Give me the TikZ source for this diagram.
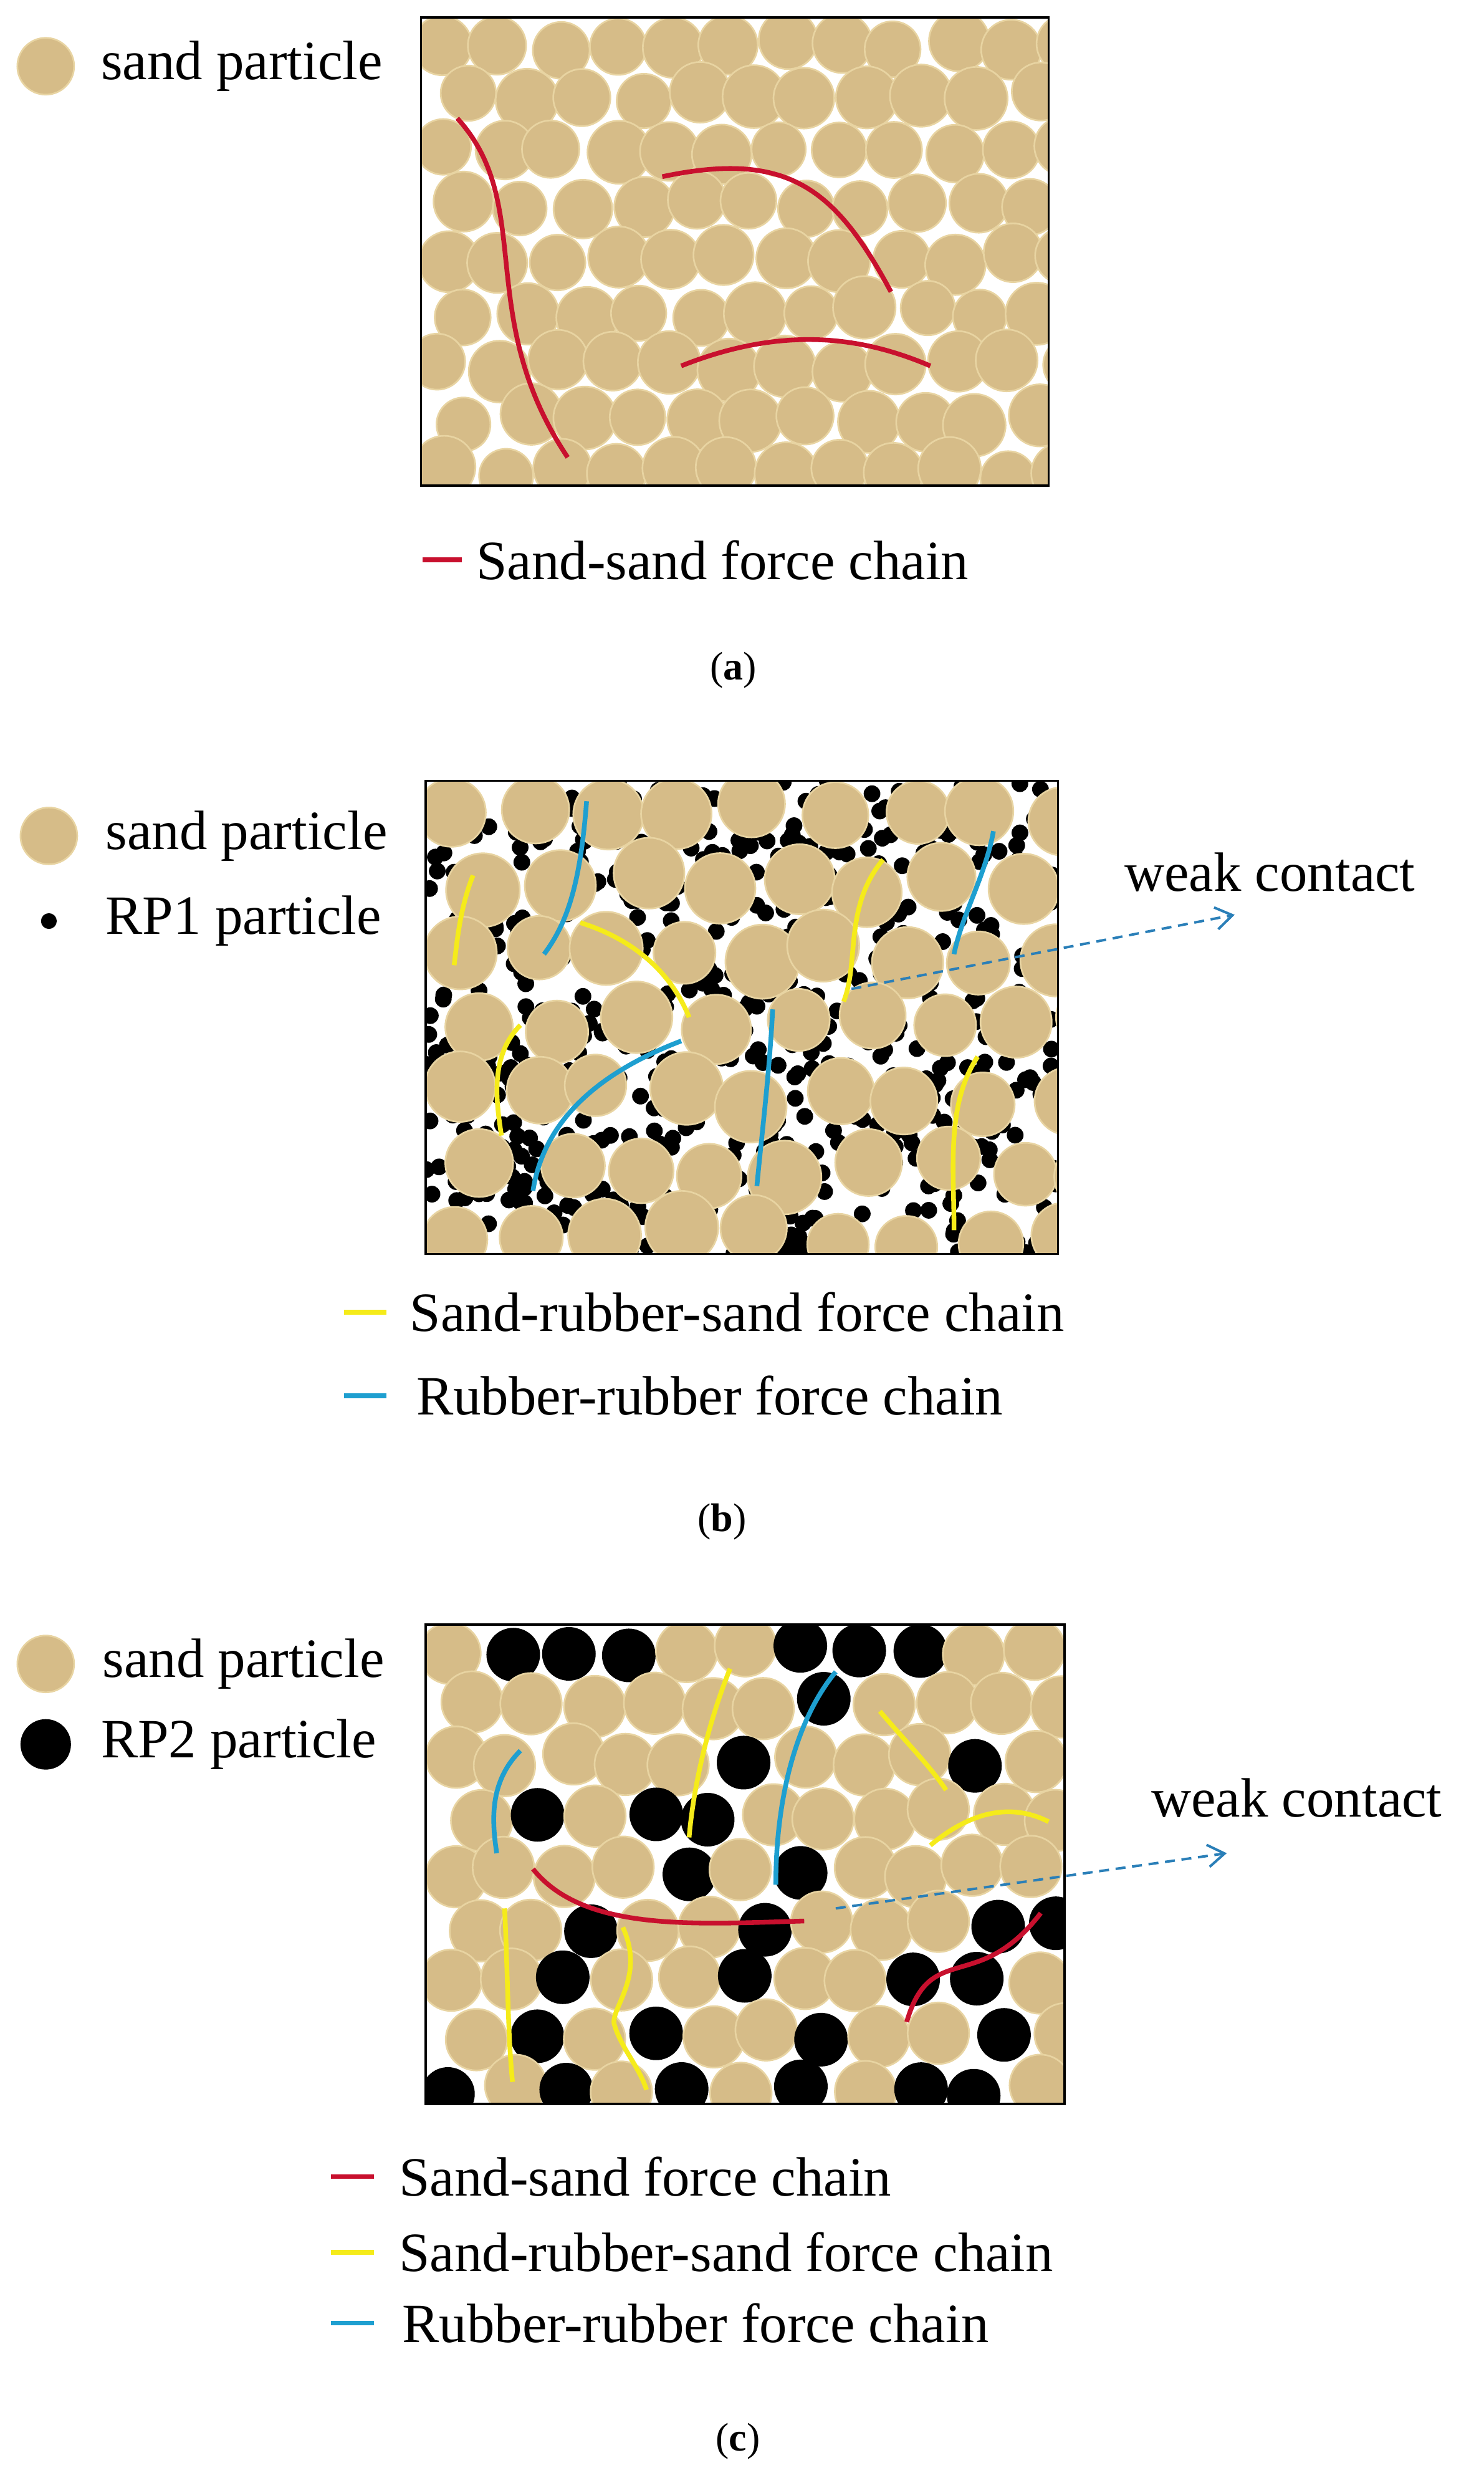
\documentclass[tikz,border=0pt]{standalone}
\usepackage{fontspec}
\setmainfont{Liberation Serif}
\usetikzlibrary{arrows.meta}
\definecolor{sand}{HTML}{D6BC88}
\definecolor{sandedge}{HTML}{E8D4A2}
\definecolor{chred}{HTML}{C8102E}
\definecolor{chyel}{HTML}{F5EB1A}
\definecolor{chcy}{HTML}{1E9FD0}
\definecolor{arr}{HTML}{2A7FB8}
\tikzset{
 sandp/.style={fill=sand,draw=sandedge,line width=3pt},
 chain/.style={line width=8.5pt},
 frame/.style={draw=black,line width=4pt},
 lbl/.style={anchor=west,inner sep=0pt,font=\fontsize{100}{120}\selectfont},
 captxt/.style={inner sep=0pt,font=\fontsize{72}{86}\selectfont},
 wk/.style={line width=4.5pt,draw=arr,dash pattern=on 18pt off 12pt,-{Straight Barb[length=30pt,width=40pt,line width=4.5pt]}}
}
\begin{document}
\begin{tikzpicture}[x=0.1cm,y=-0.1cm]
\useasboundingbox (0,0) rectangle (941,1568);
\pgfmathsetseed{7}
% ---------- panel a
\begin{scope}
\clip (267,11) rectangle (665,308);
\foreach \r in {0,...,8}{
 \foreach \c in {0,...,11}{
  \pgfmathsetmacro\xx{281+\c*36+mod(\r,2)*16+rand*4}
  \pgfmathsetmacro\yy{28+\r*34+rand*4}
  \pgfmathsetmacro\rr{18.5+rand*1.5}
  \fill[sandp] (\xx,\yy) circle[radius=\rr];
 }}
\end{scope}
\draw[frame] (267,11) rectangle (665,308);
\draw[chain,chred] (290,75) .. controls (340,130) and (300,200) .. (360,290);
\draw[chain,chred] (420,112) .. controls (500,95) and (530,120) .. (565,185);
\draw[chain,chred] (432,232) .. controls (500,205) and (550,215) .. (590,232);
\fill[sandp] (29,42) circle[radius=18];
\node[lbl] (la1) at (64,42) {sand particle};
\draw[chain,chred] (268,355) -- (293,355);
\node[lbl] (la2) at (302,355) {Sand-sand force chain};
\node[captxt] (ca) at (465,425) {(\textbf{a})};
% ---------- panel b
\begin{scope}
\clip (270,495) rectangle (671,795);
\foreach \i in {1,...,700}{
  \pgfmathsetmacro\xx{270+rnd*401}
  \pgfmathsetmacro\yy{495+rnd*300}
  \fill[black] (\xx,\yy) circle[radius=5.3];
}
\foreach \r in {0,...,6}{
 \foreach \c in {0,...,8}{
  \pgfmathsetmacro\xx{288+\c*48+mod(\r,2)*22+rand*7}
  \pgfmathsetmacro\yy{515+\r*45+rand*7}
  \pgfmathsetmacro\rr{21.5+rand*2}
  \fill[sandp] (\xx,\yy) circle[radius=\rr];
 }}
\end{scope}
\draw[frame] (270,495) rectangle (671,795);
\draw[chain,chyel] (300,555) .. controls (292,575) and (290,595) .. (288,612);
\draw[chain,chyel] (368,585) .. controls (400,595) and (425,615) .. (437,645);
\draw[chain,chyel] (560,545) .. controls (535,575) and (545,610) .. (535,635);
\draw[chain,chyel] (330,650) .. controls (310,670) and (315,700) .. (318,720);
\draw[chain,chyel] (620,670) .. controls (600,700) and (605,740) .. (605,780);
\draw[chain,chcy] (372,508) .. controls (368,560) and (360,585) .. (345,605);
\draw[chain,chcy] (630,527) .. controls (625,555) and (610,580) .. (605,605);
\draw[chain,chcy] (432,660) .. controls (380,680) and (345,710) .. (338,755);
\draw[chain,chcy] (490,640) .. controls (488,680) and (483,720) .. (480,752);
\coordinate (wb) at (540,627);
\node[lbl] (wkb) at (713,553) {weak contact};
\coordinate (wbe) at (783,580);
\draw[wk] (wb) -- (wbe);
\fill[sandp] (31,530) circle[radius=18];
\node[lbl] (lb1) at (67,530) {sand particle};
\fill[black] (31,584) circle[radius=5];
\node[lbl] (lb2) at (67,584) {RP1 particle};
\draw[chain,chyel] (218,832) -- (245,832);
\node[lbl] (lb3) at (260,832) {Sand-rubber-sand force chain};
\draw[chain,chcy] (218,885) -- (245,885);
\node[lbl] (lb4) at (264,885) {Rubber-rubber force chain};
\node[captxt] (cb) at (458,965) {(\textbf{b})};
% ---------- panel c
\begin{scope}
\clip (270,1030) rectangle (675,1334);
\foreach \r in {0,...,8}{
 \foreach \c in {0,...,10}{
  \pgfmathsetmacro\xx{286+\c*37+mod(\r,2)*16+rand*4}
  \pgfmathsetmacro\yy{1046+\r*35+rand*4}
  \pgfmathsetmacro\t{rnd}
  \ifdim\t pt<0.3pt
    \fill[black] (\xx,\yy) circle[radius=17];
  \else
    \fill[sandp] (\xx,\yy) circle[radius=19.5];
  \fi
 }}
\end{scope}
\draw[frame] (270,1030) rectangle (675,1334);
\draw[chain,chyel] (463,1058) .. controls (450,1090) and (440,1130) .. (437,1165);
\draw[chain,chyel] (558,1085) .. controls (575,1105) and (590,1120) .. (600,1135);
\draw[chain,chyel] (590,1170) .. controls (620,1145) and (645,1145) .. (665,1155);
\draw[chain,chyel] (320,1210) .. controls (322,1250) and (322,1290) .. (325,1320);
\draw[chain,chyel] (395,1222) .. controls (410,1255) and (385,1275) .. (390,1285) .. controls (395,1300) and (405,1310) .. (410,1325);
\draw[chain,chcy] (330,1110) .. controls (310,1130) and (312,1155) .. (315,1175);
\draw[chain,chcy] (530,1060) .. controls (505,1090) and (492,1140) .. (492,1195);
\draw[chain,chred] (338,1185) .. controls (370,1225) and (440,1220) .. (510,1218);
\draw[chain,chred] (575,1282) .. controls (590,1230) and (620,1265) .. (660,1213);
\coordinate (wc) at (530,1210);
\node[lbl] (wkc) at (730,1140) {weak contact};
\coordinate (wce) at (778,1175);
\draw[wk] (wc) -- (wce);
\fill[sandp] (29,1055) circle[radius=18];
\node[lbl] (lc1) at (65,1055) {sand particle};
\fill[black] (29,1106) circle[radius=16];
\node[lbl] (lc2) at (64,1106) {RP2 particle};
\draw[chain,chred] (210,1380) -- (237,1380);
\node[lbl] (lc3) at (253,1380) {Sand-sand force chain};
\draw[chain,chyel] (210,1428) -- (237,1428);
\node[lbl] (lc4) at (253,1428) {Sand-rubber-sand force chain};
\draw[chain,chcy] (210,1473) -- (237,1473);
\node[lbl] (lc5) at (255,1473) {Rubber-rubber force chain};
\node[captxt] (cc) at (468,1548) {(\textbf{c})};
\end{tikzpicture}
\end{document}
